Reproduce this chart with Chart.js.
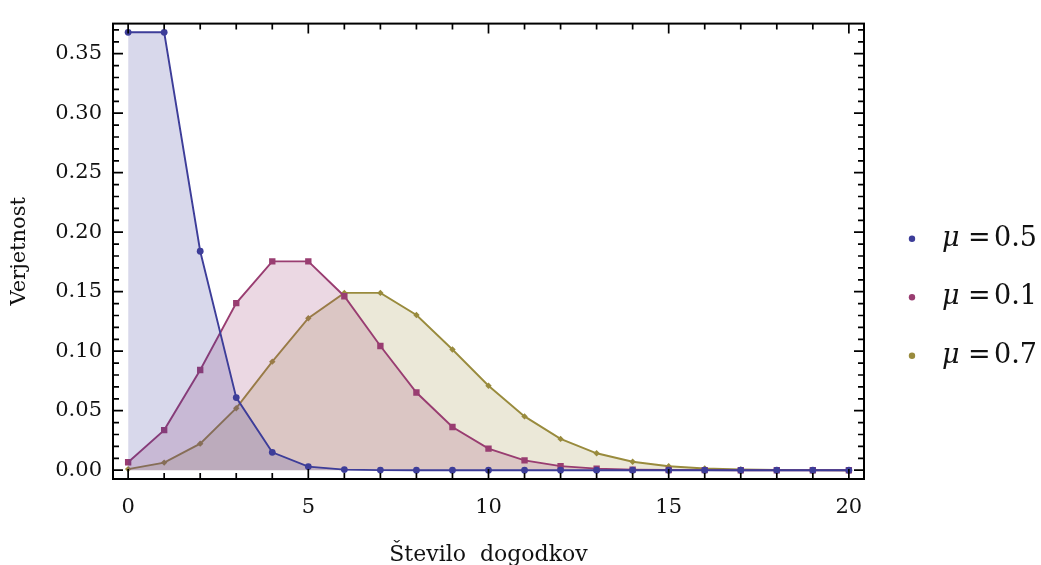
<!doctype html>
<html>
<head>
  <meta charset="utf-8">
  <title>Poissonova porazdelitev</title>
  <style>
    html, body { margin:0; padding:0; background:#fff; overflow:hidden; }
    #wrap { position:relative; width:1041px; height:575px; }
  </style>
  <script src="https://cdn.jsdelivr.net/npm/chart.js"></script>
</head>
<body>
  <div id="wrap"><canvas id="poisson"></canvas></div>

  <script>
    // number of events (x) and probabilities
    const counts = [0, 1, 2, 3, 4, 5, 6, 7, 8, 9, 10, 11, 12, 13, 14, 15, 16, 17, 18, 19, 20];
    const blueVals = [0.368, 0.368, 0.184, 0.061, 0.015, 0.003, 0.0005, 0.0001, 0, 0, 0, 0, 0, 0, 0, 0, 0, 0, 0, 0, 0];
    const purpleVals = [0.0067, 0.0337, 0.0842, 0.1404, 0.1755, 0.1755, 0.1462, 0.1044, 0.0653, 0.0363, 0.0181, 0.0082, 0.0034, 0.0013, 0.0005, 0.0002, 0.0001, 0, 0, 0, 0];
    const oliveVals = [0.0009, 0.0064, 0.0223, 0.0521, 0.0912, 0.1277, 0.149, 0.149, 0.1304, 0.1014, 0.071, 0.0452, 0.0263, 0.0142, 0.0071, 0.0033, 0.0014, 0.0006, 0.0002, 0.0001, 0];
    const seriesLabels = ['0.5', '0.1', '0.7'];

    const xMajor = [0, 5, 10, 15, 20];
    const xMinor = [0, 1, 2, 3, 4, 5, 6, 7, 8, 9, 10, 11, 12, 13, 14, 15, 16, 17, 18, 19, 20];
    const yMajor = [0, 0.05, 0.10, 0.15, 0.20, 0.25, 0.30, 0.35];
    const yMinor = [0, 0.01, 0.02, 0.03, 0.04, 0.05, 0.06, 0.07, 0.08, 0.09, 0.10, 0.11, 0.12, 0.13,
                    0.14, 0.15, 0.16, 0.17, 0.18, 0.19, 0.20, 0.21, 0.22, 0.23, 0.24, 0.25, 0.26,
                    0.27, 0.28, 0.29, 0.30, 0.31, 0.32, 0.33, 0.34, 0.35, 0.36, 0.37];

    const colors = ['#3d3d99', '#993d71', '#998b3d'];
    const fills = ['rgba(61,61,153,0.2)', 'rgba(153,61,113,0.2)', 'rgba(153,139,61,0.2)'];
    const serif = "'DejaVu Serif', 'Liberation Serif', serif";
    const ink = '#111';

    function pts(vals) {
      return vals.map((v, i) => ({ x: counts[i], y: v }));
    }

    function mkSet(label, vals, i, style, r) {
      return {
        label: label,
        data: pts(vals),
        borderColor: colors[i],
        backgroundColor: fills[i],
        pointBackgroundColor: colors[i],
        pointBorderColor: colors[i],
        pointBorderWidth: 0,
        pointStyle: style,
        pointRadius: r,
        borderWidth: 1.9,
        tension: 0,
        fill: 'origin'
      };
    }

    // frame with inward ticks on all sides + legend, Mathematica style
    const framePlugin = {
      id: 'frame',
      afterDatasetsDraw(chart) {
        const { ctx, chartArea: a, scales: { x, y } } = chart;
        ctx.save();
        ctx.strokeStyle = '#000';
        ctx.lineWidth = 1.7;
        ctx.beginPath();
        xMinor.forEach(v => {
          const px = x.getPixelForValue(v);
          const len = xMajor.includes(v) ? 10 : 6;
          ctx.moveTo(px, a.bottom); ctx.lineTo(px, a.bottom - len);
          ctx.moveTo(px, a.top); ctx.lineTo(px, a.top + len);
        });
        yMinor.forEach(v => {
          const py = y.getPixelForValue(v);
          const len = yMajor.some(m => Math.abs(m - v) < 1e-9) ? 10 : 6;
          ctx.moveTo(a.left, py); ctx.lineTo(a.left + len, py);
          ctx.moveTo(a.right, py); ctx.lineTo(a.right - len, py);
        });
        ctx.stroke();
        ctx.lineWidth = 2;
        ctx.strokeRect(a.left, a.top, a.right - a.left, a.bottom - a.top);
        ctx.restore();
      },
      afterDraw(chart) {
        const { ctx, chartArea: a } = chart;
        const mid = (a.top + a.bottom) / 2 + 46;
        const lx = a.right + 48;
        ctx.save();
        ctx.textBaseline = 'middle';
        chart.data.datasets.forEach((ds, i) => {
          const ly = mid + (i - 1) * 58.5;
          ctx.fillStyle = colors[i];
          ctx.beginPath();
          ctx.arc(lx, ly, 3.2, 0, Math.PI * 2);
          ctx.fill();
          ctx.fillStyle = ink;
          ctx.font = 'italic 27px ' + serif;
          ctx.fillText('\u03bc', lx + 30, ly);
          ctx.font = '27px ' + serif;
          ctx.fillText('=', lx + 56, ly);
          ctx.fillText(seriesLabels[i], lx + 82, ly);
        });
        ctx.restore();
      }
    };

    new Chart(document.getElementById('poisson'), {
      type: 'line',
      data: {
        datasets: [
          mkSet('\u03bc = 0.5', blueVals, 0, 'circle', 3.4),
          mkSet('\u03bc = 0.1', purpleVals, 1, 'rect', 4.5),
          mkSet('\u03bc = 0.7', oliveVals, 2, 'rectRot', 3.2)
        ]
      },
      plugins: [framePlugin],
      options: {
        responsive: true,
        maintainAspectRatio: false,
        animation: false,
        layout: { padding: { top: 15, right: 177, left: 0, bottom: 0 } },
        plugins: {
          legend: { display: false },
          tooltip: { enabled: false }
        },
        scales: {
          x: {
            type: 'linear',
            min: -0.42,
            max: 20.42,
            afterBuildTicks: s => { s.ticks = xMajor.map(v => ({ value: v })); },
            afterFit: s => { s.height = 96; },
            grid: { display: false, drawTicks: false },
            border: { display: false },
            ticks: {
              padding: 16,
              color: ink,
              font: { family: serif, size: 21 },
              callback: v => String(v)
            },
            title: {
              display: true,
              text: 'Število  dogodkov',
              color: ink,
              font: { family: serif, size: 22 },
              padding: { top: 0, bottom: 7 }
            }
          },
          y: {
            min: -0.0074,
            max: 0.3753,
            afterBuildTicks: s => { s.ticks = yMajor.map(v => ({ value: v })); },
            afterFit: s => { s.width = 113; },
            grid: { display: false, drawTicks: false },
            border: { display: false },
            ticks: {
              padding: 11,
              color: ink,
              font: { family: serif, size: 21 },
              callback: v => Number(v).toFixed(2)
            },
            title: {
              display: true,
              text: 'Verjetnost',
              color: ink,
              font: { family: serif, size: 21 },
              padding: { top: 7, bottom: 0 }
            }
          }
        }
      }
    });
  </script>
</body>
</html>
